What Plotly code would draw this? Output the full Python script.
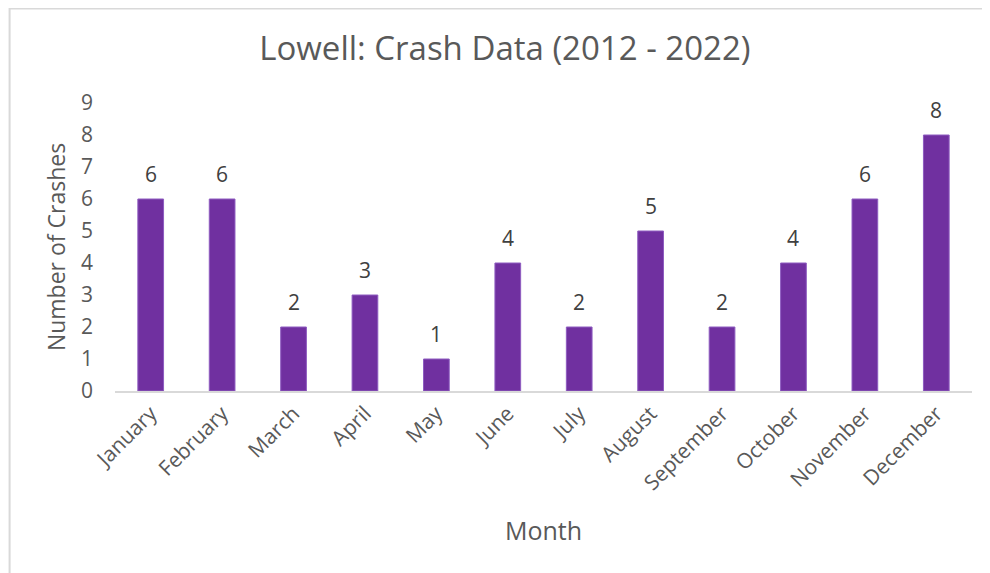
import plotly.graph_objects as go

months = ["January", "February", "March", "April", "May", "June",
          "July", "August", "September", "October", "November", "December"]
crashes = [6, 6, 2, 3, 1, 4, 2, 5, 2, 4, 6, 8]

TEXT = "#595959"
FONT = "Open Sans, Segoe UI, sans-serif"

fig = go.Figure(go.Bar(
    x=months, y=crashes,
    marker_color="#7030A0",
    marker_line=dict(color="#8e5cc0", width=1),
))

# data labels sit a bit higher above the bars than plotly's "outside" text
for m, v in zip(months, crashes):
    fig.add_annotation(x=m, y=v, text=str(v), showarrow=False,
                       yanchor="bottom", yshift=9,
                       font=dict(size=21, color="#404040"))

# page has an 8px body margin, so the figure is sized/offset to compensate
fig.update_layout(
    width=982, height=565,
    paper_bgcolor="white", plot_bgcolor="white",
    font=dict(family=FONT, color=TEXT),
    title=dict(text="Lowell: Crash Data (2012 - 2022)", x=0.506, xanchor="center",
               y=0.929, yanchor="middle", font=dict(size=33, color=TEXT)),
    margin=dict(l=107, r=18, t=95, b=182),
    bargap=0.64,
    showlegend=False,
    shapes=[dict(type="rect", xref="paper", yref="paper",
                 x0=-0.123, x1=1.2, y0=-0.8, y1=1.328,
                 line=dict(color="#D9D9D9", width=2))],
)

fig.update_xaxes(
    tickangle=-45, tickfont=dict(size=21, color=TEXT),
    showline=True, linecolor="#D9D9D9", linewidth=2,
    showgrid=False, ticks="",
    title=dict(text="Month", font=dict(size=25, color=TEXT), standoff=28),
)
fig.update_yaxes(
    range=[0, 9], dtick=1, tickfont=dict(size=21, color=TEXT),
    showgrid=False, zeroline=False, showline=False, ticks="",
    ticklabelstandoff=21,
    title=dict(text="Number of Crashes", font=dict(size=23, color=TEXT), standoff=8),
)

fig.write_html("out.html")
